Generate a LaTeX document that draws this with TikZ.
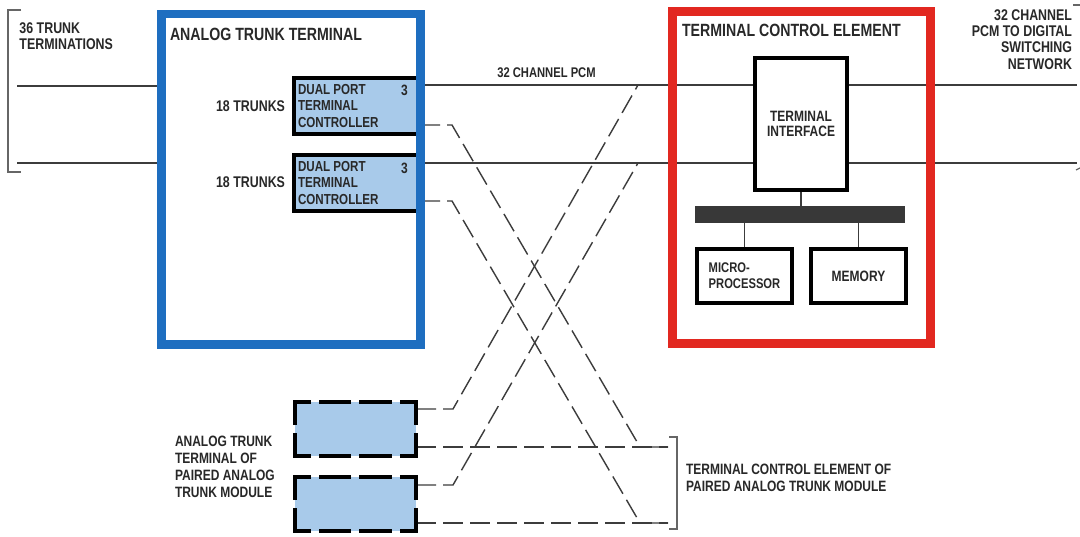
\documentclass[tikz,border=0pt]{standalone}
\usepackage{fontspec}
\setmainfont{Liberation Sans}[FakeStretch=0.8]
\definecolor{lblue}{RGB}{168,202,234}
\definecolor{bframe}{RGB}{30,110,192}
\definecolor{rframe}{RGB}{226,40,32}
\definecolor{ink}{RGB}{40,40,40}
\definecolor{wire}{RGB}{60,60,60}
\pgfdeclarelayer{bg}
\pgfdeclarelayer{paper}
\pgfsetlayers{paper,bg,main}
\tikzset{
  lbl/.style={inner sep=0pt, outer sep=0pt, text=ink},
  ftitle/.style={font=\fontsize{17.7}{19}\selectfont\bfseries},
  fa/.style={font=\fontsize{15.5}{16.2}\selectfont\bfseries},
  fb/.style={font=\fontsize{14.5}{16.3}\selectfont\bfseries},
  fc/.style={font=\fontsize{15}{17}\selectfont\bfseries},
  fd/.style={font=\fontsize{14}{16}\selectfont\bfseries},
  fti/.style={font=\fontsize{15}{15.6}\selectfont\bfseries},
  ctrlbox/.style={draw=black, line width=4pt, fill=lblue, inner sep=0pt, outer sep=0pt},
  dboxfill/.style={fill=lblue, inner sep=0pt, outer sep=0pt},
  dedge/.style={draw=black, line width=4pt, line cap=rect},
  plainbox/.style={draw=black, line width=4pt, fill=white, inner sep=0pt, outer sep=0pt, text=ink},
  busbar/.style={fill=black!78, inner sep=0pt, outer sep=0pt},
  attframe/.style={draw=bframe, line width=8.5pt, inner sep=0pt, outer sep=0pt},
  tceframe/.style={draw=rframe, line width=9pt, inner sep=0pt, outer sep=0pt},
  trunk/.style={draw=wire, line width=1.3pt},
  dl/.style={draw=wire, line width=1.4pt, dash pattern=on 20pt off 7pt},
  brk/.style={draw=black!60, line width=1.2pt}
}
\begin{document}
\begin{tikzpicture}[x=1pt,y=-1pt]
\begin{pgfonlayer}{paper}
\fill[white] (0,0) rectangle (1080,536);
\end{pgfonlayer}
\useasboundingbox (0,0) rectangle (1080,536);

% level coordinates
\coordinate (lt1) at (17,86);
\coordinate (lt2) at (17,163);
\coordinate (r1) at (0,85);
\coordinate (r2) at (0,163);
\coordinate (re1) at (1077,85);
\coordinate (re2) at (1077,163);
\coordinate (c1) at (0,125);
\coordinate (c2) at (0,201);
\coordinate (b1) at (0,409);
\coordinate (b2) at (0,447);
\coordinate (b3) at (0,485);
\coordinate (b4) at (0,523);
\coordinate (k1a) at (452,125);
\coordinate (k1b) at (640,447);
\coordinate (k2a) at (452,201);
\coordinate (k2b) at (640,523);
\coordinate (k3a) at (453,409);
\coordinate (k4a) at (453,485);
\coordinate (j1) at (638,85);
\coordinate (j2) at (638,163);
\coordinate (pb1) at (668,447);
\coordinate (pb2) at (668,523);

% controllers (right edge hidden under frame)
\node[ctrlbox, minimum width=126pt, minimum height=56pt] (ctrl1) at (357,106) {};
\node[ctrlbox, minimum width=126pt, minimum height=56pt] (ctrl2) at (357,182.5) {};
\node[attframe, minimum width=259pt, minimum height=330.5pt] (att) at (291,179.25) {};

% dashed boxes of paired module
\node[dboxfill, minimum width=121pt, minimum height=54pt] (dbox1) at (355.5,429) {};
\node[dboxfill, minimum width=121pt, minimum height=54pt] (dbox2) at (355.5,504) {};
\foreach \b in {dbox1,dbox2}{
  \draw[dedge, dash pattern=on 28.33pt off 12pt, dash phase=14.17pt] (\b.north west) -- (\b.north east);
  \draw[dedge, dash pattern=on 28.33pt off 12pt, dash phase=14.17pt] (\b.south west) -- (\b.south east);
  \draw[dedge, dash pattern=on 42pt off 12pt, dash phase=21pt] (\b.north west) -- (\b.south west);
  \draw[dedge, dash pattern=on 42pt off 12pt, dash phase=21pt] (\b.north east) -- (\b.south east);
}

% terminal control element
\node[plainbox, fti, align=center, minimum width=92pt, minimum height=132pt] (ti) at (801,124) {TERMINAL\\INTERFACE};
\node[busbar, minimum width=210pt, minimum height=17pt] (bus) at (800,214.5) {};
\node[plainbox, fd, align=left, minimum width=95pt, minimum height=54pt] (micro) at (744.5,276) {MICRO-\\PROCESSOR};
\node[plainbox, fc, minimum width=95pt, minimum height=54pt] (mem) at (858.5,276) {MEMORY};
\node[tceframe, minimum width=258pt, minimum height=332pt] (tce) at (801,177) {};

% connectors behind the boxes
\begin{pgfonlayer}{bg}
\draw[trunk] (lt1) -- (lt1 -| att.west);
\draw[trunk] (lt2) -- (lt2 -| att.west);
\draw[trunk] (ctrl1.east |- r1) -- (ti.west |- r1);
\draw[trunk] (ti.east |- r1) -- (re1);
\draw[trunk] (ctrl2.east |- r2) -- (ti.west |- r2);
\draw[trunk] (ti.east |- r2) -- (re2);
\draw[trunk] (ti.south) -- (ti.south |- bus.north);
\draw[trunk] (micro.north) -- (micro.north |- bus.south);
\draw[trunk] (mem.north) -- (mem.north |- bus.south);
\draw[dl] (ctrl1.east |- c1) -- (k1a) -- (k1b) -- (pb1);
\draw[dl] (ctrl2.east |- c2) -- (k2a) -- (k2b) -- (pb2);
\draw[dl] (dbox1.east |- b1) -- (k3a) -- (j1);
\draw[dl] (dbox1.east |- b2) -- (pb1);
\draw[dl] (dbox2.east |- b3) -- (k4a) -- (j2);
\draw[dl] (dbox2.east |- b4) -- (pb2);
\end{pgfonlayer}

% brackets
\coordinate (lbt) at (21,10);
\coordinate (lbb) at (21,172);
\draw[brk] (lbt) -- ++(-13,0) |- (lbb);
\coordinate (tbt) at (669,437);
\coordinate (tbb) at (669,529);
\draw[brk] (tbt) -- ++(8,0) |- (tbb);
\coordinate (rt1) at (1073,5);
\coordinate (rt2) at (1076,170);
\draw[brk] (rt1) -- ++(7,0);
\draw[brk] (rt2) -- ++(4,-2);

% labels
\node[lbl, ftitle, anchor=west] (attl) at (170,34) {ANALOG TRUNK TERMINAL};
\node[lbl, ftitle, anchor=west] (tcel) at (682,30) {TERMINAL CONTROL ELEMENT};
\node[lbl, fa, anchor=west, align=left] (l36) at (19.5,36) {36 TRUNK\\TERMINATIONS};
\node[lbl, fa, anchor=east] (tr1) at (285,106) {18 TRUNKS};
\node[lbl, fa, anchor=east] (tr2) at (285,182.5) {18 TRUNKS};
\node[lbl, fb, anchor=west, align=left] (c1t) at (298,105.75) {DUAL PORT\\TERMINAL\\CONTROLLER};
\node[lbl, fb, anchor=west, align=left] (c2t) at (298,182.75) {DUAL PORT\\TERMINAL\\CONTROLLER};
\node[lbl, fc] (n1) at (404.5,90) {3};
\node[lbl, fc] (n2) at (404.5,168) {3};
\node[lbl, fd] (pcm) at (546.5,73) {32 CHANNEL PCM};
\node[lbl, fa, anchor=east, align=right] (pcmr) at (1072,39.5) {32 CHANNEL\\PCM TO DIGITAL\\SWITCHING\\NETWORK};
\node[lbl, fc, anchor=west, align=left] (atp) at (175,466.5) {ANALOG TRUNK\\TERMINAL OF\\PAIRED ANALOG\\TRUNK MODULE};
\node[lbl, fc, anchor=west, align=left] (tcep) at (686,477.5) {TERMINAL CONTROL ELEMENT OF\\PAIRED ANALOG TRUNK MODULE};
\end{tikzpicture}
\end{document}
